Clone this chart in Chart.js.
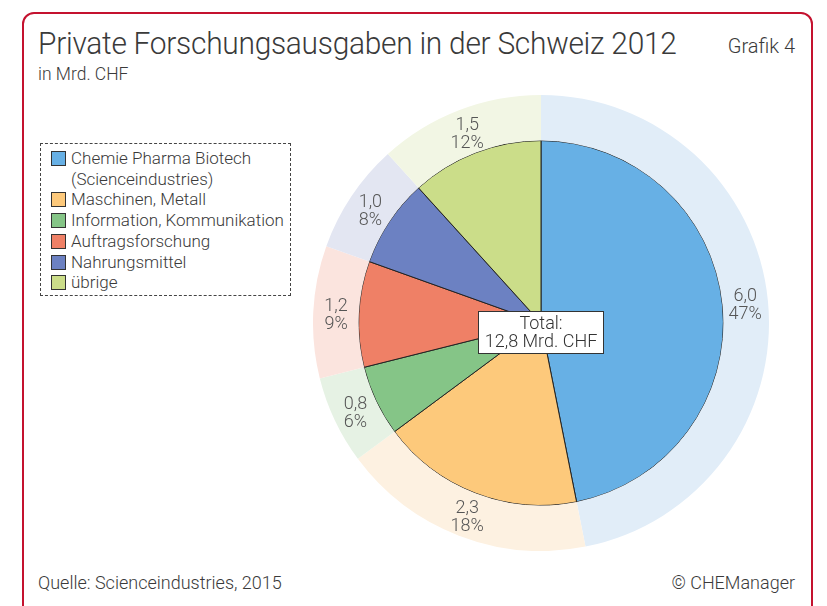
<!DOCTYPE html>
<html>
<head>
<meta charset="utf-8">
<script src="https://cdn.jsdelivr.net/npm/chart.js@4"></script>
<style>
  html, body { margin: 0; padding: 0; background: #fff; width: 827px; height: 606px; overflow: hidden; }
  body { position: relative; font-family: Roboto, "Liberation Sans", sans-serif; font-weight: 300; color: #3a3a3a; }
  .card { position: absolute; left: 22px; top: 12px; width: 787px; height: 640px; border: 2px solid #c4122f; border-radius: 12px; }
  .title { position: absolute; left: 38px; top: 24px; font-size: 32px; letter-spacing: -0.3px; white-space: nowrap; transform: scaleX(0.935); transform-origin: 0 0; }
  .grafik { position: absolute; right: 32px; top: 34px; font-size: 20px; }
  .unit { position: absolute; left: 38px; top: 64px; font-size: 17.5px; }
  .source { position: absolute; left: 38px; top: 572px; font-size: 18px; }
  .copy { position: absolute; right: 32px; top: 572px; font-size: 18px; }
  #legend { position: absolute; left: 40px; top: 143px; width: 251px; height: 153px; border: 1.5px dashed #444; box-sizing: border-box; padding: 4px 0 0 10px; font-size: 17px; line-height: 20.7px; }
  #legend .row { display: flex; align-items: flex-start; }
  #legend .sw { width: 13px; height: 13px; border: 1px solid #333; margin: 3px 5px 0 0; flex: none; }
  #wrap { position: absolute; left: 313px; top: 95px; width: 456px; height: 456px; }
</style>
</head>
<body>
<div class="card"></div>
<div class="title">Private Forschungsausgaben in der Schweiz 2012</div>
<div class="grafik">Grafik 4</div>
<div class="unit">in Mrd. CHF</div>
<div id="legend"></div>
<div id="wrap"><canvas id="pie"></canvas></div>
<div class="source">Quelle: Scienceindustries, 2015</div>
<div class="copy">© CHEManager</div>

<script>
// data (Mrd. CHF)
const categories = ['Chemie Pharma Biotech\n(Scienceindustries)', 'Maschinen, Metall', 'Information, Kommunikation', 'Auftragsforschung', 'Nahrungsmittel', 'übrige'];
const values = [6.0, 2.3, 0.8, 1.2, 1.0, 1.5];
const colors = ['#67b0e5', '#fdc97b', '#85c587', '#ef8066', '#6c81c2', '#cbdd89'];
const lightColors = ['#e1edf8', '#fdf1e1', '#e6f2e4', '#fbe4de', '#e3e6f2', '#f2f6e4'];
const totalLabel = ['Total:', '12,8 Mrd. CHF'];

const total = values.reduce((a, b) => a + b, 0);

// legend
const legend = document.getElementById('legend');
categories.forEach((c, i) => {
    const row = document.createElement('div');
    row.className = 'row';
    row.innerHTML = '<span class="sw" style="background:' + colors[i] + '"></span><span>' + c.replace('\n', '<br>') + '</span>';
    legend.appendChild(row);
});

const ringLabels = {
    id: 'ringLabels',
    afterDatasetsDraw(chart) {
        const c = chart.ctx;
        const meta = chart.getDatasetMeta(0);
        c.save();
        c.font = '300 18px Roboto, "Liberation Sans", sans-serif';
        c.fillStyle = '#555';
        c.textAlign = 'center';
        c.textBaseline = 'middle';
        meta.data.forEach((arc, i) => {
            const p = arc.getProps(['x', 'y', 'startAngle', 'endAngle', 'innerRadius', 'outerRadius']);
            const a = (p.startAngle + p.endAngle) / 2;
            const r = (p.innerRadius + p.outerRadius) / 2;
            const x = p.x + Math.cos(a) * r;
            const y = p.y + Math.sin(a) * r + 3;
            c.fillText(values[i].toFixed(1).replace('.', ','), x, y - 9);
            c.fillText(Math.round(values[i] / total * 100) + '%', x, y + 9);
        });
        // total box
        const cx = meta.data[0].x, cy = meta.data[0].y;
        const w = 126, h = 43;
        const bx = cx - w / 2, by = cy - 12;
        c.fillStyle = '#fff';
        c.fillRect(bx, by, w, h);
        c.strokeStyle = '#333';
        c.lineWidth = 1;
        c.strokeRect(bx + 0.5, by + 0.5, w - 1, h - 1);
        c.fillStyle = '#333';
        c.font = '300 18px Roboto, "Liberation Sans", sans-serif';
        c.fillText(totalLabel[0], cx, by + 13);
        c.fillText(totalLabel[1], cx, by + 31);
        c.restore();
    }
};

new Chart(document.getElementById('pie'), {
    type: 'pie',
    data: {
        labels: categories,
        datasets: [
            { data: values, backgroundColor: lightColors, borderWidth: 0, weight: 1 },
            { data: values, backgroundColor: colors, borderColor: '#222', borderWidth: 1, weight: 4 }
        ]
    },
    options: {
        responsive: true,
        maintainAspectRatio: false,
        animation: false,
        events: [],
        layout: { padding: 0 },
        plugins: {
            legend: { display: false },
            tooltip: { enabled: false }
        }
    },
    plugins: [ringLabels]
});
</script>
</body>
</html>
